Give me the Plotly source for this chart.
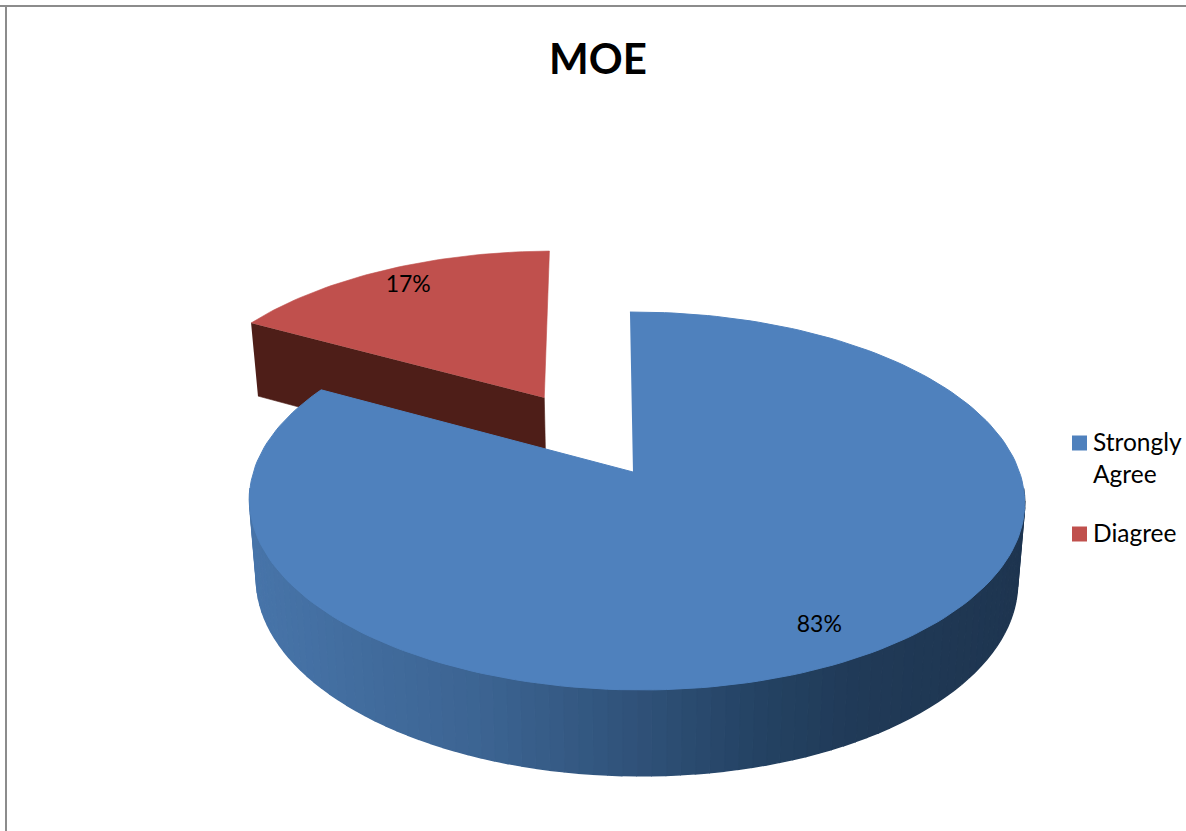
import math
import plotly.graph_objects as go

# ---- data ----
categories = ["Strongly<br>Agree", "Diagree"]
values = [83, 17]
top_colors = ["#4F81BD", "#C0504D"]
title_text = "MOE"

# ---- 3D-look projection of the pie plane onto the pixel-scaled axes ----
W, H = 1186, 831
TIP = (633, 472)
A, B, K, M, C = 184.5, 383.0, 0.1534, -0.009, -0.019
SX, SY, D = 0.982, 1.035, 78.3
PULL = 0.5


def project(x, y, lower=False):
    den = 1 + K * y + M * x
    Y = A * y / den
    X = B * x / den + C * Y
    if lower:
        X, Y = X * SX, Y * SY - D
    return TIP[0] + X, TIP[1] - Y


def arc(t0, t1, n, ox=0.0, oy=0.0, lower=False, rx=1.0, ry=1.0):
    """Angles are clockwise from the top of the pie, in degrees."""
    pts = []
    for i in range(n + 1):
        t = math.radians(t0 + (t1 - t0) * i / n)
        pts.append(project(ox + rx * math.sin(t), oy + ry * math.cos(t), lower))
    return pts


def lerp_color(x):
    stops = [(250, (0x47, 0x74, 0xA9)), (480, (0x3C, 0x64, 0x92)), (640, (0x2F, 0x51, 0x78)),
             (760, (0x24, 0x42, 0x63)), (860, (0x20, 0x3A, 0x57)), (1020, (0x1E, 0x35, 0x50))]
    for (x0, c0), (x1, c1) in zip(stops, stops[1:]):
        if x <= x1:
            f = max(0.0, (x - x0) / (x1 - x0))
            return "rgb(%d,%d,%d)" % tuple(round(a + (b - a) * f) for a, b in zip(c0, c1))
    return "rgb(30,53,80)"


fig = go.Figure()


def poly(pts, color, lw=0.6):
    fig.add_trace(go.Scatter(
        x=[p[0] for p in pts], y=[p[1] for p in pts], mode="lines", fill="toself",
        fillcolor=color, line=dict(color=color, width=lw),
        showlegend=False, hoverinfo="skip"))


total = sum(values)
sweep_blue = 360 * values[0] / total
sweep_red = 360 * values[1] / total

# exploded slice (drawn first: it sits behind the big slice)
RX, RY = 1.012, 1.04
mid_red = math.radians(sweep_blue + sweep_red / 2)
ox, oy = PULL * math.sin(mid_red), PULL * math.cos(mid_red)
red_top = arc(sweep_blue, 360, 50, ox, oy, rx=RX, ry=RY)
apex, apex_low = project(ox + 0.011, oy), project(ox + 0.011, oy, True)
left_low = arc(sweep_blue, sweep_blue, 1, ox, oy, lower=True, rx=RX, ry=RY)[0]
poly([red_top[0], apex, apex_low, left_low], "#4E1E18")
poly(red_top + [apex], top_colors[1])

# big slice: rim strips, then top face
strips = 90
t_from, t_to = 95, 265
up = arc(t_from, t_to, strips)
lo = arc(t_from, t_to, strips, lower=True)
for i in range(strips):
    poly([up[i], up[i + 1], lo[i + 1], lo[i]], lerp_color((up[i][0] + up[i + 1][0]) / 2), lw=1.5)
poly(arc(0, sweep_blue, 200) + [TIP], top_colors[0], lw=1)

# value labels
lab_b = math.radians(sweep_blue / 2)
lab_r = mid_red
pos = [project(0.83 * math.sin(lab_b), 0.86 * math.cos(lab_b)),
       project(ox + 0.85 * math.sin(lab_r), oy + 0.89 * math.cos(lab_r))]
fig.add_trace(go.Scatter(
    x=[p[0] for p in pos], y=[p[1] for p in pos], mode="text",
    text=[f"{v}%" for v in values], textposition="middle center",
    textfont=dict(family="Lato", size=23, color="#000000"),
    showlegend=False, hoverinfo="skip"))

# legend: squares at the first text line, labels to their right
LEG_FONT = dict(family="Lato", size=24.5, color="#000000")
leg_y = [443, 534]
fig.add_trace(go.Scatter(
    x=[1079.5] * len(categories), y=leg_y, mode="markers",
    marker=dict(symbol="square", size=15, color=top_colors),
    showlegend=False, hoverinfo="skip"))
annotations = [
    dict(text=name, x=1092, y=y - 17, xref="x", yref="y", xanchor="left", yanchor="top",
         align="left", showarrow=False, font=LEG_FONT, borderpad=0)
    for name, y in zip(categories, leg_y)
]

fig.update_layout(
    width=W, height=H, autosize=False, showlegend=False,
    margin=dict(l=0, r=0, t=0, b=0),
    paper_bgcolor="white", plot_bgcolor="white",
    title=dict(text=f"<b>{title_text}</b>", x=598 / W, xanchor="center", y=1 - 59 / H, yanchor="middle",
               font=dict(family="Lato", size=42, color="#000000")),
    xaxis=dict(range=[0, W], visible=False, fixedrange=True),
    yaxis=dict(range=[H, 0], visible=False, fixedrange=True),
    annotations=annotations,
    shapes=[
        dict(type="line", xref="x", yref="y", x0=0, x1=W, y0=6, y1=6, line=dict(color="#8C8C8C", width=2)),
        dict(type="line", xref="x", yref="y", x0=6, x1=6, y0=6, y1=H, line=dict(color="#8C8C8C", width=2)),
    ],
)

fig.write_html(
    "out.html", config=dict(displayModeBar=False),
    post_script="document.body.style.margin='0';document.documentElement.style.overflow='hidden';",
)
